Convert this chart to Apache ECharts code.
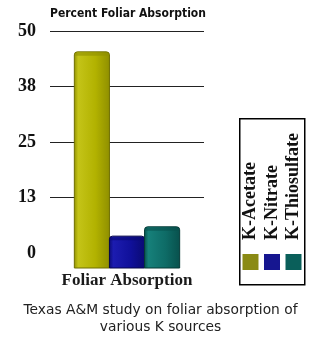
<!DOCTYPE html>
<html><head><meta charset="utf-8">
<script src="https://cdn.jsdelivr.net/npm/echarts@6/dist/echarts.min.js"></script>
<style>html,body{margin:0;padding:0;background:#fff}#c{width:322px;height:343px}</style>
</head><body><div id="c"></div>
<script>
const categories = ['Foliar Absorption'];
const sources = ['K-Acetate', 'K-Nitrate', 'K-Thiosulfate'];
const acetate = [45.3];
const nitrate = [3.8];
const thiosulfate = [5.9];
const yTicks = [0, 12.5, 25, 37.5, 50];
const titleText = 'Percent Foliar Absorption';
const captionText = 'Texas A&M study on foliar absorption of\nvarious K sources';

const seriesValues = [acetate, nitrate, thiosulfate];
const fills = [
  ['#c4c418', '#b2b200', '#8f8f00'],
  ['#1c1cb0', '#10109a', '#0a0a72'],
  ['#16807a', '#0e6b66', '#08504c']
];
const strokes = ['#6f6f00', '#06064a', '#053a37'];
const legendColors = ['#8a8a14', '#161690', '#0a5f5a'];
const serif = '"Liberation Serif", "DejaVu Serif", serif';

const chart = echarts.init(document.getElementById('c'));

function makeRender(idx) {
  return function (params, api) {
    const x = api.value(0), v = api.value(1);
    const top = api.coord([x, v]);
    const base = api.coord([x, 0]);
    const band = api.size([1, 0])[0];
    const w = band * 0.228;
    const cx = top[0] + (idx - 1) * w;
    const bottom = base[1] + 15;
    const f = fills[idx];
    return {
      type: 'group',
      children: [{
        type: 'rect',
        shape: { x: cx - w / 2, y: top[1], width: w, height: bottom - top[1], r: [3, 3, 0, 0] },
        style: {
          fill: new echarts.graphic.LinearGradient(0, 0, 1, 0, [
            { offset: 0, color: f[2] }, { offset: 0.12, color: f[0] },
            { offset: 0.6, color: f[1] }, { offset: 1, color: f[2] }
          ]),
          stroke: strokes[idx], lineWidth: 1
        }
      }, {
        type: 'rect',
        shape: { x: cx - w / 2 + 1, y: top[1] + 1, width: w - 2, height: 3 },
        style: { fill: f[2], opacity: 0.6 }
      }]
    };
  };
}

const legendGraphics = [{
  type: 'rect', left: 239, top: 118,
  shape: { width: 65, height: 166 },
  style: { fill: '#fff', stroke: '#000', lineWidth: 1.5 }
}];
sources.forEach(function (s, i) {
  const cx = 250.5 + i * 21.5;
  legendGraphics.push({
    type: 'text', x: cx, y: 240, rotation: Math.PI / 2,
    style: { text: s, font: 'bold 18px ' + serif, fill: '#111', align: 'left', verticalAlign: 'middle' }
  });
  legendGraphics.push({
    type: 'rect', left: cx - 8, top: 254,
    shape: { width: 16, height: 16 },
    style: { fill: legendColors[i] }
  });
});

chart.setOption({
  animation: false,
  grid: { left: 50, right: 118, top: 31, bottom: 90 },
  xAxis: {
    type: 'category', data: categories,
    axisLine: { show: false }, axisTick: { show: false },
    axisLabel: { margin: 19, color: '#1a1a1a', fontFamily: serif, fontWeight: 'bold', fontSize: 17 }
  },
  yAxis: {
    type: 'value', min: yTicks[0], max: yTicks[yTicks.length - 1], interval: yTicks[1] - yTicks[0],
    axisLine: { show: false }, axisTick: { show: false },
    axisLabel: { formatter: function (v) { return String(Math.round(v)); }, margin: 14,
      fontFamily: serif, fontWeight: 'bold', fontSize: 18, color: '#111', padding: [3, 0, 0, 0] },
    splitLine: { show: true, showMinLine: false, lineStyle: { color: '#222', width: 1 } }
  },
  series: sources.map(function (s, i) {
    return {
      type: 'custom', name: s,
      renderItem: makeRender(i),
      encode: { x: 0, y: 1 },
      data: seriesValues[i].map(function (v, j) { return [j, v]; }),
      clip: false, z: 3
    };
  }),
  graphic: [{
    type: 'text', x: 128, y: 14,
    style: { text: titleText, font: 'bold 12px "DejaVu Sans Condensed", "Liberation Sans", sans-serif', fill: '#111', align: 'center', verticalAlign: 'middle' }
  }, {
    type: 'text', x: 160.5, y: 318.5,
    style: { text: captionText, font: '13.8px "DejaVu Sans", sans-serif', fill: '#222', align: 'center', verticalAlign: 'middle', lineHeight: 17 }
  }].concat(legendGraphics)
});
</script></body></html>
